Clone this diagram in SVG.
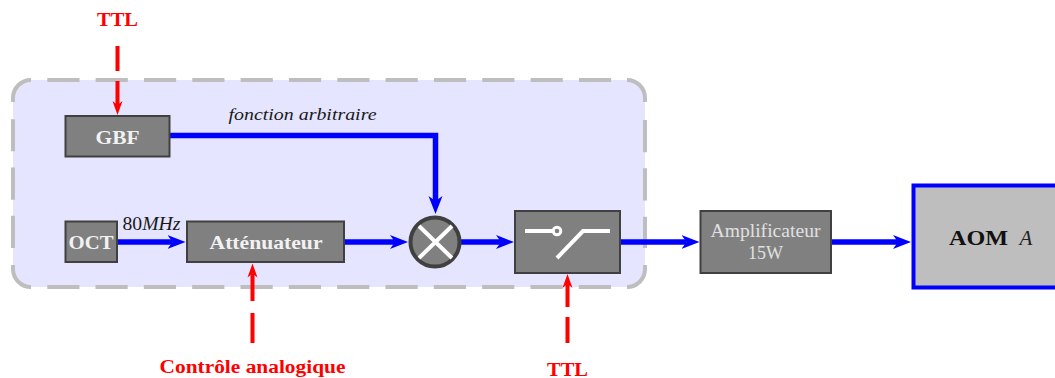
<svg xmlns="http://www.w3.org/2000/svg" width="1055" height="378" viewBox="0 0 1055 378">
<style>
text{font-family:"Liberation Serif","Times New Roman",serif;text-anchor:middle}
.b{font-weight:bold}
.i{font-style:italic;fill:#1a1a1a}
.r{fill:#ff0000;font-weight:bold}
.w{fill:#f2f2f2;font-weight:bold}
.box{fill:#808080;stroke:#404040;stroke-width:2}
.blue{fill:none;stroke:#0000ff;stroke-width:5.500}
.red{fill:none;stroke:#ff0000;stroke-width:4}
.ws{fill:none;stroke:#ffffff;stroke-width:4}
</style>
<defs>
<marker id="ab" markerUnits="userSpaceOnUse" markerWidth="20" markerHeight="18" refX="5" refY="9" orient="auto" viewBox="0 0 20 18"><path d="M0,2 L18,9 L0,16 L5,9 Z" fill="#0000ff"/></marker>
<marker id="ar" markerUnits="userSpaceOnUse" markerWidth="16" markerHeight="16" refX="4" refY="8" orient="auto" viewBox="0 0 16 16"><path d="M0,3 L14,8 L0,13 L4,8 Z" fill="#ff0000"/></marker>
</defs>
<rect id="zone" x="13" y="80" width="632" height="207" rx="18" ry="18" fill="#e5e5ff" stroke="none"/>
<path id="zone-border" d="M47.300,80 H611.500 M627,80 A18,18 0 0 1 645,98 V102 M645,120 V248 M645,265 V269 A18,18 0 0 1 627,287 M611,287 H47.300 M31,287 A18,18 0 0 1 13,269 V264 M13,248 V119 M13,102 V98 A18,18 0 0 1 31,80" fill="none" stroke="#bebebe" stroke-width="4" stroke-dasharray="32.200 16.130"/>
<g id="connectors">
<path class="blue" d="M170,135.500 H435.500 V201" marker-end="url(#ab)"/>
<path class="blue" d="M117,242 H172.500" marker-end="url(#ab)"/>
<path class="blue" d="M344,242 H395" marker-end="url(#ab)"/>
<path class="blue" d="M460,242 H501" marker-end="url(#ab)"/>
<path class="blue" d="M620,242 H686.500" marker-end="url(#ab)"/>
<path class="blue" d="M831,242 H898" marker-end="url(#ab)"/>
<path class="red" d="M117.500,46 V71 M117.500,81 V105" marker-end="url(#ar)"/>
<path class="red" d="M252.500,343 V313 M252.500,301 V273.500" marker-end="url(#ar)"/>
<path class="red" d="M567.500,343 V317 M567.500,307 V284" marker-end="url(#ar)"/>
</g>
<g id="gbf"><rect class="box" x="65.500" y="116" width="104" height="40.500"/><text class="w" x="117.500" y="143.500" font-size="18" textLength="44" lengthAdjust="spacingAndGlyphs">GBF</text></g>
<g id="oct"><rect class="box" x="65.500" y="221.500" width="51.500" height="40.500"/><text class="w" x="91" y="249.300" font-size="18" textLength="45" lengthAdjust="spacingAndGlyphs">OCT</text></g>
<g id="att"><rect class="box" x="187" y="221.500" width="157" height="40.500"/><text class="w" x="266" y="249.300" font-size="18" textLength="113" lengthAdjust="spacingAndGlyphs">Atténuateur</text></g>
<g id="mixer"><circle cx="435" cy="242" r="24.500" fill="#808080" stroke="#404040" stroke-width="4"/><path class="ws" d="M419,226 L452,258 M452,226 L419,258"/></g>
<g id="switch"><rect class="box" x="515" y="211" width="105" height="62"/><path class="ws" d="M525,231 H552 M557,258 L583,231 H610"/><circle cx="557" cy="231" r="3.800" fill="none" stroke="#fff" stroke-width="3"/></g>
<g id="amp"><rect class="box" x="700.500" y="211" width="130.500" height="62"/><text x="765.500" y="236.500" font-size="18" fill="#e0e0e0" textLength="110" lengthAdjust="spacingAndGlyphs">Amplificateur</text><text x="765.500" y="258.500" font-size="18" fill="#e0e0e0" textLength="35" lengthAdjust="spacingAndGlyphs">15W</text></g>
<g id="aom"><rect x="913.500" y="185.500" width="150" height="102" fill="#bebebe" stroke="#0000ff" stroke-width="4"/><text class="b" x="978.500" y="244.500" font-size="21" fill="#111" textLength="59" lengthAdjust="spacingAndGlyphs">AOM</text><text x="1026" y="244.500" font-size="21" font-style="italic" fill="#222">A</text></g>
<text class="i" x="302.500" y="120" font-size="17" textLength="148" lengthAdjust="spacingAndGlyphs">fonction arbitraire</text>
<text x="151.500" y="230" font-size="18" fill="#1a1a1a" textLength="58" lengthAdjust="spacingAndGlyphs">80<tspan font-style="italic">MHz</tspan></text>
<text class="r" x="117.500" y="26" font-size="18" textLength="41" lengthAdjust="spacingAndGlyphs">TTL</text>
<text class="r" x="252.500" y="373" font-size="18" textLength="186" lengthAdjust="spacingAndGlyphs">Contrôle analogique</text>
<text class="r" x="567.500" y="376" font-size="18" textLength="41" lengthAdjust="spacingAndGlyphs">TTL</text>
</svg>
